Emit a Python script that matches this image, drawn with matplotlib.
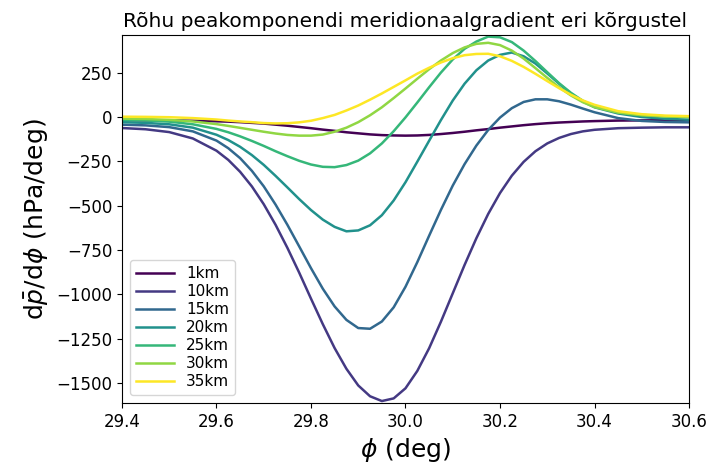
import numpy as np
import matplotlib
matplotlib.use("Agg")
import matplotlib.pyplot as plt

# laiuskraad (deg)
phi = [29.40, 29.45, 29.50, 29.55, 29.60, 29.625, 29.65, 29.675, 29.70, 29.725,
       29.75, 29.775, 29.80, 29.825, 29.85, 29.875, 29.90, 29.925, 29.95, 29.975,
       30.00, 30.025, 30.05, 30.075, 30.10, 30.125, 30.15, 30.175, 30.20, 30.225,
       30.25, 30.275, 30.30, 30.325, 30.35, 30.375, 30.40, 30.45, 30.50, 30.55,
       30.60]

# dp/dphi (hPa/deg) eri kõrgustel
grad_1km = [-18, -19, -19, -21, -24, -26, -29, -33, -37, -43,
            -49, -56, -63, -71, -78, -86, -92, -98, -102, -104,
            -105, -104, -101, -96, -90, -83, -75, -68, -60, -53,
            -46, -40, -35, -31, -28, -25, -23, -20, -19, -18,
            -18]
grad_10km = [-62, -69, -85, -121, -190, -242, -309, -392, -492, -608,
             -738, -878, -1025, -1169, -1304, -1421, -1515, -1576, -1603, -1588,
             -1531, -1433, -1305, -1155, -995, -835, -684, -547, -429, -331,
             -253, -193, -149, -118, -96, -81, -72, -63, -60, -58,
             -58]
grad_15km = [-43, -47, -57, -81, -133, -176, -232, -304, -391, -494,
             -608, -730, -853, -969, -1069, -1145, -1191, -1195, -1154, -1074,
             -958, -819, -670, -524, -387, -266, -161, -73, -3, 50,
             85, 100, 100, 89, 70, 48, 27, -6, -22, -28,
             -30]
grad_20km = [-29, -33, -41, -60, -100, -130, -168, -215, -270, -332,
             -397, -463, -525, -579, -620, -645, -640, -611, -554, -471,
             -368, -252, -134, -17, 93, 188, 264, 319, 351, 364,
             343, 302, 246, 188, 132, 88, 55, 20, 0, -10,
             -15]
grad_25km = [-16, -19, -26, -41, -67, -86, -109, -135, -163, -193,
             -221, -247, -268, -281, -283, -271, -246, -205, -149, -80,
             -2, 82, 168, 251, 325, 385, 426, 454, 450, 423,
             375, 316, 253, 191, 137, 92, 60, 28, 12, 4,
             0]
grad_30km = [-9, -11, -16, -25, -40, -50, -61, -72, -83, -93,
             -101, -105, -105, -99, -83, -60, -29, 10, 55, 107,
             161, 216, 270, 319, 361, 393, 413, 419, 406, 375,
             330, 276, 221, 168, 122, 84, 56, 25, 10, 3,
             0]
grad_35km = [2, 1, -1, -6, -14, -20, -25, -29, -34, -36,
             -35, -30, -21, -6, 12, 37, 65, 98, 133, 170,
             207, 245, 278, 308, 332, 349, 356, 357, 343, 317,
             283, 244, 203, 163, 126, 94, 69, 33, 16, 8,
             5]

series = [grad_1km, grad_10km, grad_15km, grad_20km, grad_25km, grad_30km, grad_35km]
labels = ['1km', '10km', '15km', '20km', '25km', '30km', '35km']

fig = plt.figure(figsize=(7.23, 4.73), dpi=100)
ax = fig.add_axes([0.1687, 0.148, 0.7843, 0.778])

colors = plt.cm.viridis(np.linspace(0, 1, len(series)))
for vals, lab, col in zip(series, labels, colors):
    ax.plot(phi, vals, color=col, linewidth=1.8, label=lab)

ax.set_xlim(29.4, 30.6)
ax.set_ylim(-1614, 463)
ax.set_xticks([29.4, 29.6, 29.8, 30.0, 30.2, 30.4, 30.6])
ax.set_yticks([-1500, -1250, -1000, -750, -500, -250, 0, 250])
ax.tick_params(labelsize=12)

ax.set_title('Rõhu peakomponendi meridionaalgradient eri kõrgustel', fontsize=14.5)
ax.set_xlabel(r'$\phi$ (deg)', fontsize=18)
ax.set_ylabel(r'd$\bar{p}$/d$\phi$ (hPa/deg)', fontsize=18)
ax.legend(loc='lower left', fontsize=11, labelspacing=0.2, handlelength=2.5)

fig.savefig('out.png', dpi=100)
